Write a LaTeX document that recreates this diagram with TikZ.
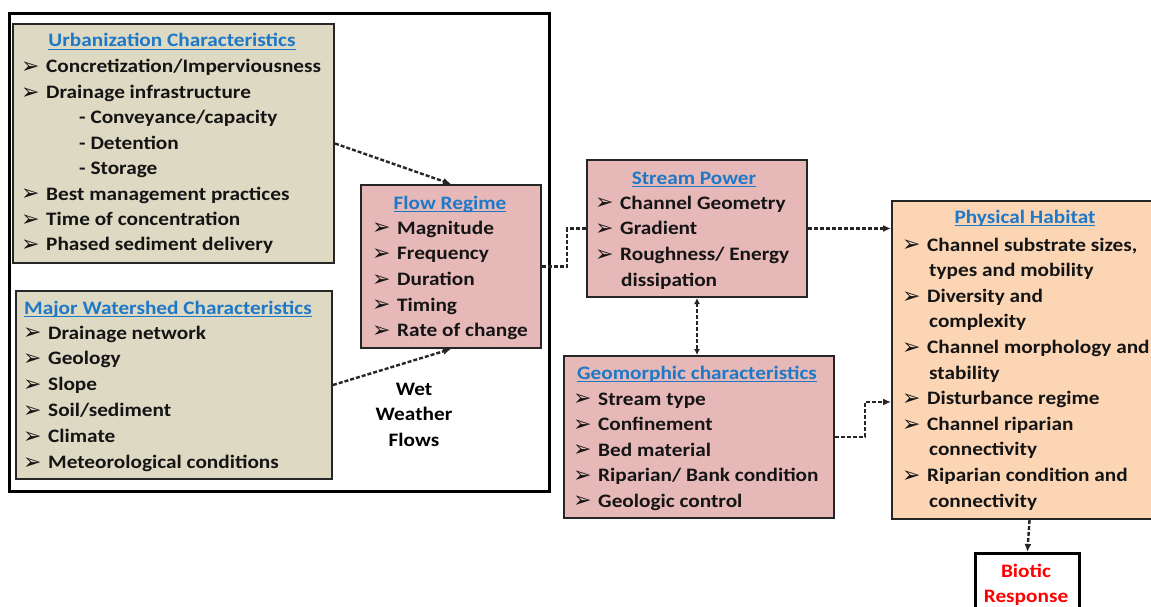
\documentclass[tikz,border=0pt]{standalone}
\usepackage{fontspec}
\setmainfont{Carlito}[FakeStretch=1.12]
\newfontfamily\symfont{DejaVu Sans}
\usetikzlibrary{arrows.meta}
\definecolor{beige}{HTML}{DDD9C3}
\definecolor{pinkbox}{HTML}{E6B9B8}
\definecolor{peach}{HTML}{FCD5B5}
\definecolor{titleblue}{HTML}{1E78C8}
\definecolor{edge}{HTML}{262626}
\definecolor{biored}{HTML}{FF0000}
\newcommand{\bl}{\makebox[25pt][l]{\raisebox{-0.8pt}{\symfont\fontsize{22}{22}\selectfont ➢}}}
\newcommand{\ulx}[1]{\setbox0\hbox{#1}\rlap{\rule[-3.2pt]{\wd0}{1.4pt}}\box0}
\tikzset{
  panel/.style={draw=edge, line width=2pt, anchor=north west, inner sep=0pt},
  ttl/.style={anchor=base, font=\fontsize{19}{23}\bfseries\selectfont, text=titleblue, inner sep=0pt},
  txt/.style={anchor=base west, font=\fontsize{19}{23}\bfseries\selectfont, text=black!92, inner sep=0pt},
  ctr/.style={anchor=base, font=\fontsize{19}{23}\bfseries\selectfont, inner sep=0pt},
  dashline/.style={draw=black!85, line width=2.4pt, dash pattern=on 4pt off 2pt},
  conn/.style={dashline, -{Latex[length=8pt,width=7pt]}},
  conntwo/.style={dashline, {Latex[length=6pt,width=6pt]}-{Latex[length=6pt,width=6pt]}},
}
\begin{document}
\begin{tikzpicture}[x=1pt,y=-1pt]
\useasboundingbox (0,0) rectangle (1151,607);
\clip (0,0) rectangle (1151,607);
\fill[white] (0,0) rectangle (1151,607);

% outer frame
\node[draw=black, line width=3pt, anchor=north west, inner sep=0pt, minimum width=540pt, minimum height=478pt] (outer) at (8,12) {};

% Urbanization characteristics
\node[panel, fill=beige, minimum width=321pt, minimum height=239pt] (urb) at (12,23) {};
\node[ttl] (urbT) at (172,47) {\ulx{Urbanization Characteristics}};
\foreach \t [count=\i from 0] in {\bl Concretization/Imperviousness, \bl Drainage infrastructure, \hspace*{58pt}- Conveyance/capacity, \hspace*{58pt}- Detention, \hspace*{58pt}- Storage, \bl Best management practices, \bl Time of concentration, \bl Phased sediment delivery}
  \node[txt] (urb\i) at (21,{73+25.4*\i}) {\t};

% Major watershed characteristics
\node[panel, fill=beige, minimum width=316pt, minimum height=188pt] (wsh) at (15,290) {};
\node[ttl] (wshT) at (168,314) {\ulx{Major Watershed Characteristics}};
\foreach \t [count=\i from 0] in {Drainage network, Geology, Slope, Soil/sediment, Climate, Meteorological conditions}
  \node[txt] (wsh\i) at (23,{339+25.9*\i}) {\bl\t};

% Flow regime
\node[panel, fill=pinkbox, minimum width=180pt, minimum height=163pt] (flow) at (360,184) {};
\node[ttl] (flowT) at (450,209) {\ulx{Flow Regime}};
\foreach \t [count=\i from 0] in {Magnitude, Frequency, Duration, Timing, Rate of change}
  \node[txt] (flow\i) at (372,{234+25.7*\i}) {\bl\t};

% Wet weather flows
\node[ctr] (wet1) at (414,395) {Wet};
\node[ctr] (wet2) at (414,420) {Weather};
\node[ctr] (wet3) at (414,446) {Flows};

% Stream power
\node[panel, fill=pinkbox, minimum width=220pt, minimum height=137pt] (strm) at (586,159) {};
\node[ttl] (strmT) at (694,184) {\ulx{Stream Power}};
\foreach \t [count=\i from 0] in {\bl Channel Geometry, \bl Gradient, \bl Roughness/ Energy, \hspace*{26pt}dissipation}
  \node[txt] (strm\i) at (595,{209+25.8*\i}) {\t};

% Geomorphic characteristics
\node[panel, fill=pinkbox, minimum width=270pt, minimum height=162pt] (geo) at (563,355) {};
\node[ttl] (geoT) at (697,379) {\ulx{Geomorphic characteristics}};
\foreach \t [count=\i from 0] in {Stream type, Confinement, Bed material, Riparian/ Bank condition, Geologic control}
  \node[txt] (geo\i) at (573,{405+25.5*\i}) {\bl\t};

% Physical habitat
\node[panel, fill=peach, minimum width=275pt, minimum height=318pt] (ph) at (891,200) {};
\node[ttl] (phT) at (1025,223) {\ulx{Physical Habitat}};
\foreach \t [count=\i from 0] in {{\bl Channel substrate sizes,}, \hspace*{27pt}types and mobility, \bl Diversity and, \hspace*{27pt}complexity, \bl Channel morphology and, \hspace*{27pt}stability, \bl Disturbance regime, \bl Channel riparian, \hspace*{27pt}connectivity, \bl Riparian condition and, \hspace*{27pt}connectivity}
  \node[txt] (ph\i) at (902,{251+25.6*\i}) {\t};

% Biotic response
\node[draw=black, line width=2.8pt, fill=white, anchor=north west, inner sep=0pt, minimum width=104pt, minimum height=80pt] (bio) at (974,552) {};
\node[ctr, text=biored] (bio1) at (1026,577) {Biotic};
\node[ctr, text=biored] (bio2) at (1026,602) {Response};

% connectors
\coordinate (phB) at (891,402);
\draw[conn] (urb.east) -- (flow.north);
\draw[conn] (wsh.east) -- (flow.south);
\draw[dashline] (flow.east) -- ++(25,0) |- (strm.west);
\draw[conn] (strm.east) -- (strm.east -| ph.west);
\draw[conntwo] (strm.south) -- (strm.south |- geo.north);
\draw[conn] (geo.east) -- ++(30,0) |- (phB);
\draw[conn] (ph.south) -- (bio.north);
\end{tikzpicture}
\end{document}
